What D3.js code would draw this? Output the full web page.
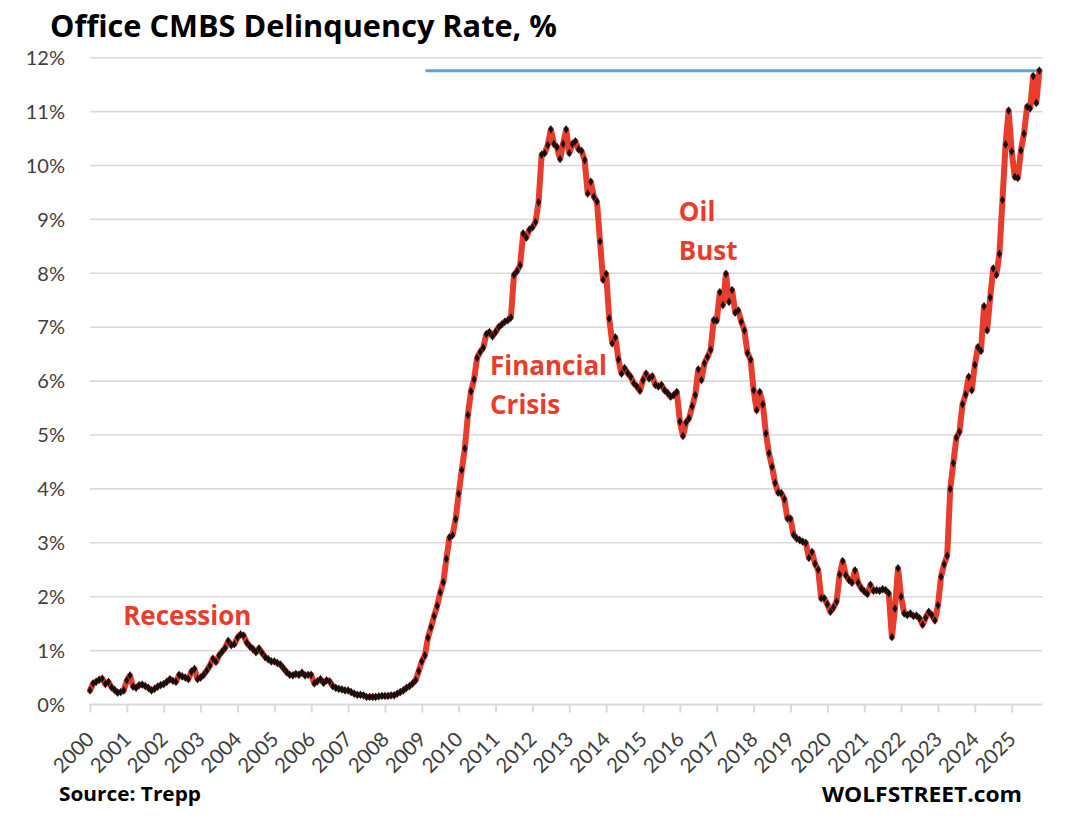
<!DOCTYPE html>
<html>
<head>
<meta charset="utf-8">
<title>Office CMBS Delinquency Rate</title>
<script src="https://cdnjs.cloudflare.com/ajax/libs/d3/7.8.5/d3.min.js"></script>
<style>
body { margin:0; background:#fff; }
svg { display:block; font-family: Lato, 'Open Sans', sans-serif; }
</style>
</head>
<body>
<div id="chart"></div>
<script>
// monthly office CMBS delinquency rate (%), Jan 2000 .. Oct 2025
var firstYear = 2000;
var rates = [
  0.26, 0.39, 0.42, 0.46, 0.48, 0.38, 0.42, 0.32, 0.27, 0.22, 0.23, 0.26,   // 2000
  0.45, 0.54, 0.33, 0.31, 0.36, 0.37, 0.34, 0.31, 0.26, 0.29, 0.33, 0.36,   // 2001
  0.38, 0.42, 0.47, 0.44, 0.42, 0.55, 0.52, 0.50, 0.47, 0.61, 0.66, 0.47,   // 2002
  0.50, 0.55, 0.63, 0.72, 0.85, 0.79, 0.91, 0.98, 1.05, 1.18, 1.10, 1.12,   // 2003
  1.24, 1.30, 1.28, 1.15, 1.08, 1.03, 0.97, 1.04, 0.96, 0.88, 0.84, 0.80,   // 2004
  0.80, 0.77, 0.74, 0.67, 0.60, 0.55, 0.54, 0.57, 0.55, 0.59, 0.54, 0.55,   // 2005
  0.55, 0.39, 0.43, 0.47, 0.40, 0.45, 0.43, 0.34, 0.31, 0.29, 0.28, 0.26,   // 2006
  0.26, 0.23, 0.20, 0.18, 0.18, 0.17, 0.14, 0.14, 0.14, 0.14, 0.15, 0.16,   // 2007
  0.16, 0.16, 0.17, 0.17, 0.20, 0.23, 0.26, 0.31, 0.34, 0.39, 0.45, 0.62,   // 2008
  0.80, 0.91, 1.24, 1.43, 1.64, 1.83, 2.08, 2.27, 2.70, 3.10, 3.14, 3.44,   // 2009
  3.91, 4.35, 4.75, 5.37, 5.81, 6.03, 6.43, 6.54, 6.62, 6.87, 6.91, 6.83,   // 2010
  6.91, 7.00, 7.05, 7.10, 7.13, 7.18, 7.97, 8.04, 8.15, 8.74, 8.66, 8.81,   // 2011
  8.85, 8.95, 9.32, 10.20, 10.23, 10.38, 10.67, 10.40, 10.34, 10.12, 10.40, 10.67, // 2012
  10.23, 10.40, 10.45, 10.30, 10.27, 10.10, 9.48, 9.70, 9.42, 9.33, 8.59, 7.88,  // 2013
  7.99, 7.16, 6.70, 6.81, 6.40, 6.14, 6.24, 6.15, 6.08, 5.96, 5.90, 5.82,   // 2014
  6.02, 6.14, 6.05, 6.09, 5.93, 5.90, 5.93, 5.83, 5.78, 5.71, 5.74, 5.80,   // 2015
  5.25, 4.98, 5.23, 5.31, 5.53, 5.74, 6.22, 6.02, 6.33, 6.45, 6.58, 7.13,   // 2016
  7.12, 7.65, 7.41, 7.99, 7.47, 7.69, 7.27, 7.31, 7.10, 6.94, 6.52, 6.40,   // 2017
  5.83, 5.46, 5.80, 5.57, 5.03, 4.66, 4.41, 4.11, 3.93, 3.92, 3.81, 3.45,   // 2018
  3.45, 3.15, 3.08, 3.05, 3.02, 3.00, 2.72, 2.83, 2.61, 2.50, 1.97, 1.97,   // 2019
  1.86, 1.72, 1.80, 1.91, 2.41, 2.66, 2.40, 2.31, 2.26, 2.49, 2.26, 2.16,   // 2020
  2.10, 2.05, 2.22, 2.11, 2.12, 2.11, 2.14, 2.12, 2.06, 1.25, 1.78, 2.53,   // 2021
  2.00, 1.69, 1.66, 1.69, 1.64, 1.65, 1.60, 1.48, 1.61, 1.72, 1.66, 1.56,   // 2022
  1.84, 2.37, 2.60, 2.76, 4.00, 4.48, 4.95, 5.06, 5.57, 5.75, 6.08, 5.83,   // 2023
  6.30, 6.63, 6.56, 7.39, 6.94, 7.55, 8.09, 7.97, 8.36, 9.36, 10.39, 11.02, // 2024
  10.26, 9.79, 9.77, 10.28, 10.59, 11.09, 11.06, 11.66, 11.16, 11.76        // 2025
];
var yearTicks = d3.range(2000, 2026);
var pctTicks = d3.range(0, 13);

// red notes, placed in data units (year, %)
var notes = [
  {lines: ['Recession'], year: 2000.9, value: 1.47},
  {lines: ['Financial', 'Crisis'], year: 2010.85, value: 6.12},
  {lines: ['Oil', 'Bust'], year: 2015.97, value: 8.97}
];
// blue "record" line drawn at the latest value
var recordFrom = 2009.1;

var W = 1080, H = 821;
var red = '#e83c2c';
var boldFont = "'Open Sans', Lato, sans-serif";

var svg = d3.select('#chart').append('svg')
    .attr('width', W)
    .attr('height', H);

var points = rates.map(function(v, i) {
    return {t: firstYear + i / 12, v: v};
});
var lastT = points[points.length - 1].t;

var x = d3.scaleLinear().domain([2000, 2025]).range([90, 1011.7]);
var y = d3.scaleLinear().domain([0, 12]).range([704.5, 57.7]);
var xEnd = x(lastT + 1 / 12);

// gridlines + y labels
svg.append('g').selectAll('line')
    .data(pctTicks.filter(function(d) { return d > 0; }))
    .enter().append('line')
    .attr('x1', 90).attr('x2', xEnd)
    .attr('y1', function(d) { return y(d); })
    .attr('y2', function(d) { return y(d); })
    .attr('stroke', '#d9d9d9')
    .attr('stroke-width', 1.6);

svg.append('g').selectAll('text')
    .data(pctTicks)
    .enter().append('text')
    .attr('x', 65)
    .attr('y', function(d) { return y(d); })
    .attr('dy', '0.36em')
    .attr('text-anchor', 'end')
    .attr('font-size', 20)
    .attr('fill', '#404040')
    .text(function(d) { return d + '%'; });

// x axis
var xAxis = d3.axisBottom(x)
    .tickValues(yearTicks)
    .tickSize(8)
    .tickFormat(d3.format('d'));
var gx = svg.append('g')
    .attr('transform', 'translate(0,704.5)')
    .call(xAxis);
gx.select('.domain')
    .attr('d', 'M90,0H' + xEnd)
    .attr('stroke', '#d9d9d9')
    .attr('stroke-width', 2);
gx.selectAll('.tick line').attr('stroke', '#d9d9d9').attr('stroke-width', 2);
gx.selectAll('.tick text')
    .attr('font-family', 'Lato, sans-serif')
    .attr('font-size', 20.5)
    .attr('fill', '#404040')
    .attr('text-anchor', 'end')
    .attr('x', 0).attr('y', 0).attr('dy', 0)
    .attr('transform', 'translate(5,36) rotate(-45)');

// record line
svg.append('line')
    .attr('x1', x(recordFrom)).attr('x2', xEnd)
    .attr('y1', y(rates[rates.length - 1]))
    .attr('y2', y(rates[rates.length - 1]))
    .attr('stroke', '#5ba3dc')
    .attr('stroke-width', 3);

// series line and markers
var line = d3.line()
    .x(function(d) { return x(d.t); })
    .y(function(d) { return y(d.v); });

svg.append('path')
    .datum(points)
    .attr('d', line)
    .attr('fill', 'none')
    .attr('stroke', red)
    .attr('stroke-width', 6)
    .attr('stroke-linejoin', 'round')
    .attr('stroke-linecap', 'round');

svg.append('g').selectAll('path')
    .data(points)
    .enter().append('path')
    .attr('d', d3.symbol().type(d3.symbolDiamond).size(22))
    .attr('transform', function(d) { return 'translate(' + x(d.t) + ',' + y(d.v) + ')'; })
    .attr('fill', '#111');

// notes
notes.forEach(function(n) {
    var t = svg.append('text')
        .attr('x', x(n.year))
        .attr('y', y(n.value))
        .attr('font-family', boldFont)
        .attr('font-size', 26)
        .attr('font-weight', 'bold')
        .attr('fill', red);
    n.lines.forEach(function(s, i) {
        t.append('tspan')
            .attr('x', x(n.year))
            .attr('dy', i === 0 ? 0 : 39)
            .text(s);
    });
});

// title and footer
svg.append('text')
    .attr('x', 50).attr('y', 37)
    .attr('font-family', boldFont)
    .attr('font-size', 30)
    .attr('font-weight', 'bold')
    .attr('fill', '#000')
    .attr('textLength', 507)
    .attr('lengthAdjust', 'spacingAndGlyphs')
    .text('Office CMBS Delinquency Rate, %');

svg.append('text')
    .attr('x', 59).attr('y', 801)
    .attr('font-family', boldFont)
    .attr('font-size', 20)
    .attr('font-weight', 'bold')
    .attr('fill', '#000')
    .attr('textLength', 142)
    .attr('lengthAdjust', 'spacingAndGlyphs')
    .text('Source: Trepp');

svg.append('text')
    .attr('x', 822).attr('y', 802)
    .attr('font-family', boldFont)
    .attr('font-size', 22)
    .attr('font-weight', 'bold')
    .attr('fill', '#000')
    .attr('textLength', 200)
    .attr('lengthAdjust', 'spacingAndGlyphs')
    .text('WOLFSTREET.com');
</script>
</body>
</html>
